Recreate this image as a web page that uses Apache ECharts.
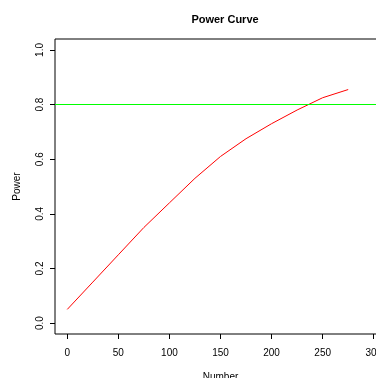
<!DOCTYPE html>
<html>
<head>
<meta charset="utf-8">
<script src="https://cdn.jsdelivr.net/npm/echarts@6/dist/echarts.min.js"></script>
<style>
  html, body { margin: 0; padding: 0; background: #fff; }
  #chart { width: 376px; height: 378px; }
</style>
</head>
<body>
<div id="chart"></div>
<script>
// sample sizes and the power
const sampleSizes = [0, 25, 50, 75, 100, 125, 150, 175, 200, 225, 250, 275];
const powerValues = [0.05, 0.15, 0.25, 0.35, 0.44, 0.53, 0.61, 0.675, 0.73, 0.78, 0.825, 0.855];
const targetPower = 0.8;
const xTicks = [0, 50, 100, 150, 200, 250, 300];
const yTicks = [0.0, 0.2, 0.4, 0.6, 0.8, 1.0];

const chart = echarts.init(document.getElementById('chart'));
const font = 'Liberation Sans, Arial, sans-serif';

chart.setOption({
    animation: false,
    title: {
        text: 'Power Curve',
        left: 220,
        top: 9,
        textAlign: 'center',
        textStyle: { fontFamily: font, fontSize: 11, fontWeight: 'bold', color: '#000' }
    },
    grid: {
        left: 55,
        right: -10,
        top: 39,
        bottom: 44,
        containLabel: false,
        outerBoundsMode: 'none',
        show: true,
        borderColor: '#000',
        borderWidth: 1,
        backgroundColor: 'transparent'
    },
    xAxis: {
        type: 'value',
        min: -12,
        max: 312,
        name: 'Number',
        nameLocation: 'middle',
        nameGap: 38,
        nameTextStyle: { fontFamily: font, fontSize: 10, color: '#000' },
        splitLine: { show: false },
        axisLine: { show: false, onZero: false },
        axisTick: { show: true, inside: false, length: 5, customValues: xTicks, lineStyle: { color: '#000' } },
        axisLabel: { customValues: xTicks, margin: 14, fontFamily: font, fontSize: 10, color: '#000' }
    },
    yAxis: {
        type: 'value',
        min: -0.04,
        max: 1.04,
        name: 'Power',
        nameLocation: 'middle',
        nameGap: 33,
        nameTextStyle: { fontFamily: font, fontSize: 10, color: '#000' },
        splitLine: { show: false },
        axisLine: { show: false, onZero: false },
        axisTick: { show: true, inside: false, length: 5, customValues: yTicks, lineStyle: { color: '#000' } },
        axisLabel: {
            customValues: yTicks,
            rotate: 90,
            margin: 10,
            fontFamily: font,
            fontSize: 10,
            color: '#000',
            formatter: v => v.toFixed(1)
        }
    },
    series: [{
        type: 'line',
        data: sampleSizes.map((n, i) => [n, powerValues[i]]),
        showSymbol: false,
        lineStyle: { color: '#ff0000', width: 1 },
        markLine: {
            silent: true,
            symbol: 'none',
            label: { show: false },
            lineStyle: { color: '#00ff00', width: 1, type: 'solid' },
            data: [{ yAxis: targetPower }]
        }
    }]
});
</script>
</body>
</html>
